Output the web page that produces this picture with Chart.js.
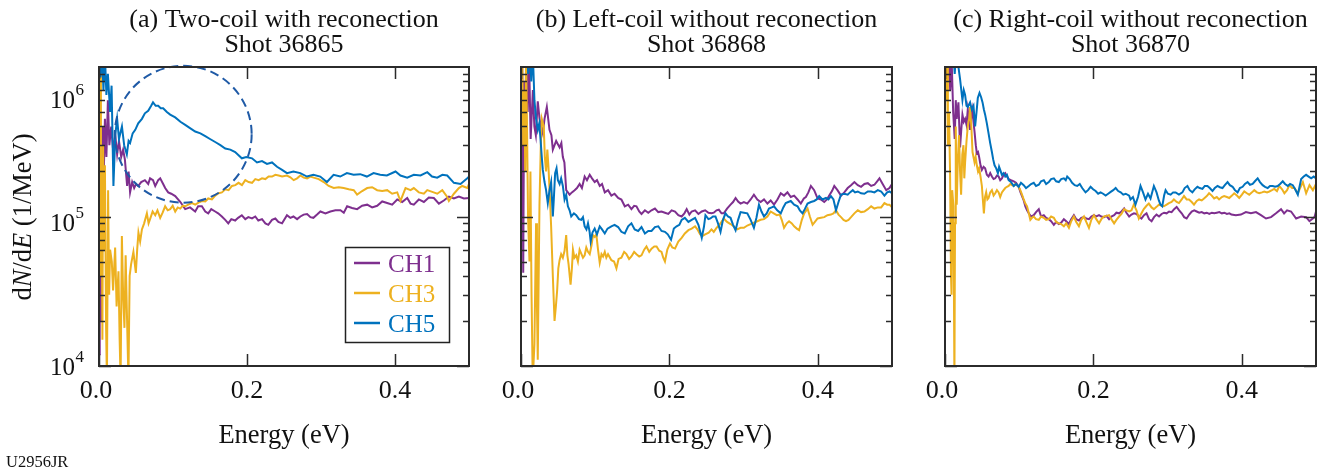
<!DOCTYPE html>
<html>
<head>
<meta charset="utf-8">
<script src="https://cdn.jsdelivr.net/npm/chart.js@4.4.1/dist/chart.umd.min.js"></script>
<style>
  html, body { margin: 0; padding: 0; background: #fff; }
  #wrap { position: relative; width: 1319px; height: 472px; }
  #wrap canvas { position: absolute; left: 0; top: 0; }
</style>
</head>
<body>
<div id="wrap">
  <canvas id="panelA" width="1319" height="472"></canvas>
  <canvas id="panelB" width="1319" height="472"></canvas>
  <canvas id="panelC" width="1319" height="472"></canvas>
</div>
<script>
// ---- data: [energy (eV), dN/dE (1/MeV)] ----
const xTicks = [0.0, 0.2, 0.4];
const yTicks = [1e4, 1e5, 1e6];
const channels = ['CH1', 'CH3', 'CH5'];
const titles = [
  ['(a) Two-coil with reconection', 'Shot 36865'],
  ['(b) Left-coil without reconection', 'Shot 36868'],
  ['(c) Right-coil without reconection', 'Shot 36870']
];

// (a) shot 36865
const aCh1 = [[0.000,1.2e4],[0.001,3e4],[0.002,1.2e5],[0.0035,2e4],[0.005,4e5],[0.006,1.5e5],[0.008,4.5e5],[0.010,2.5e5],[0.012,6e5],[0.014,3e5],[0.0165,4e5],[0.019,2.8e5],[0.022,3.5e5],[0.0245,2.6e5],[0.027,3.2e5],[0.030,2.5e5],[0.0326,2.8e5],[0.035,2.4e5],[0.038,1.6e5],[0.040,2e5],[0.042,1.45e5],[0.0448,1.7e5],[0.0475,1.55e5],[0.050,1.65e5],[0.053,1.6e5],[0.057,1.7e5],[0.062,1.75e5],[0.0665,1.65e5],[0.069,1.8e5],[0.073,1.75e5],[0.076,1.6e5],[0.080,1.75e5],[0.0827,1.8e5],[0.0867,1.65e5],[0.0894,1.55e5],[0.0935,1.45e5],[0.0976,1.42e5],[0.103,1.37e5],[0.110,1.25e5],[0.1165,1.12e5],[0.123,1.15e5],[0.130,1.08e5],[0.134,1.17e5],[0.139,1.17e5],[0.1436,1.08e5],[0.1476,1.05e5],[0.1517,1.12e5],[0.157,1.08e5],[0.161,1.05e5],[0.166,1.0e5],[0.1706,9.5e4],[0.1747,9e4],[0.1788,9.6e4],[0.184,9.4e4],[0.188,9.8e4],[0.193,1.02e5],[0.1977,9.6e4],[0.2018,9.9e4],[0.2068,9.7e4],[0.2112,1.0e5],[0.2153,9.4e4],[0.2203,9.6e4],[0.2248,9.0e4],[0.2288,8.8e4],[0.2338,9.5e4],[0.2383,9.7e4],[0.2424,9.2e4],[0.2474,9.0e4],[0.254,1.02e5],[0.2586,9.8e4],[0.2627,1.0e5],[0.2677,9.6e4],[0.2721,1.0e5],[0.2766,1.03e5],[0.2812,1.04e5],[0.2857,9.9e4],[0.2897,9.8e4],[0.2947,1.03e5],[0.2992,1.08e5],[0.306,1.05e5],[0.3127,1.08e5],[0.3195,1.1e5],[0.3263,1.1e5],[0.3308,1.06e5],[0.3353,1.17e5],[0.342,1.14e5],[0.3488,1.12e5],[0.3556,1.18e5],[0.3624,1.2e5],[0.3691,1.15e5],[0.3759,1.18e5],[0.3827,1.26e5],[0.3894,1.23e5],[0.3962,1.2e5],[0.403,1.3e5],[0.4097,1.25e5],[0.4165,1.33e5],[0.421,1.22e5],[0.4254,1.2e5],[0.4322,1.3e5],[0.439,1.25e5],[0.4457,1.34e5],[0.4525,1.33e5],[0.4593,1.22e5],[0.466,1.28e5],[0.4728,1.36e5],[0.4796,1.32e5],[0.4863,1.36e5],[0.4931,1.32e5],[0.500,1.33e5]];
const aCh3 = [[0.000,1.3e6],[0.001,3e5],[0.0015,1.2e6],[0.0026,4e4],[0.0035,2.5e5],[0.0046,1.5e4],[0.0055,3e5],[0.007,6e4],[0.008,2.2e5],[0.0096,1.8e4],[0.0107,8e3],[0.0123,1.5e5],[0.0137,3e4],[0.015,6e4],[0.0173,5e4],[0.019,3.2e4],[0.0218,6.2e4],[0.0238,2.5e4],[0.0263,4.3e4],[0.0279,1.5e4],[0.0292,8e3],[0.0309,7.4e4],[0.0326,3e4],[0.0344,1.8e4],[0.036,5.5e4],[0.0376,2.4e4],[0.0398,8e3],[0.0414,4e4],[0.0434,4.8e4],[0.0465,5.8e4],[0.0498,4.2e4],[0.0516,6e4],[0.0533,7.8e4],[0.0556,6.8e4],[0.058,8.2e4],[0.061,9e4],[0.0647,1.05e5],[0.067,9e4],[0.069,9.6e4],[0.0725,1.08e5],[0.076,1.02e5],[0.079,1.1e5],[0.0827,9.8e4],[0.086,1.06e5],[0.0894,1.17e5],[0.0928,1.1e5],[0.0962,1.12e5],[0.0996,1.18e5],[0.103,1.08e5],[0.1064,1.15e5],[0.1097,1.13e5],[0.1131,1.18e5],[0.1165,1.17e5],[0.1206,1.2e5],[0.1256,1.23e5],[0.130,1.2e5],[0.1345,1.24e5],[0.139,1.27e5],[0.1436,1.26e5],[0.1476,1.32e5],[0.1526,1.3e5],[0.157,1.38e5],[0.1616,1.43e5],[0.1661,1.45e5],[0.1706,1.52e5],[0.1751,1.5e5],[0.1797,1.6e5],[0.1842,1.62e5],[0.1886,1.68e5],[0.1932,1.62e5],[0.1977,1.75e5],[0.2022,1.7e5],[0.2068,1.68e5],[0.2112,1.78e5],[0.2157,1.75e5],[0.2203,1.8e5],[0.2248,1.78e5],[0.2292,1.85e5],[0.2338,1.85e5],[0.2383,1.9e5],[0.2428,1.88e5],[0.2474,1.85e5],[0.254,1.88e5],[0.2586,1.83e5],[0.2631,1.75e5],[0.2677,1.8e5],[0.2721,1.88e5],[0.2766,1.82e5],[0.2812,1.8e5],[0.2857,1.85e5],[0.2901,1.82e5],[0.2969,1.78e5],[0.3037,1.7e5],[0.3104,1.6e5],[0.3172,1.55e5],[0.324,1.57e5],[0.3307,1.55e5],[0.3375,1.52e5],[0.3443,1.5e5],[0.3488,1.4e5],[0.3556,1.48e5],[0.3624,1.55e5],[0.3691,1.57e5],[0.3759,1.5e5],[0.3827,1.48e5],[0.3894,1.5e5],[0.3962,1.42e5],[0.403,1.45e5],[0.4074,1.27e5],[0.4142,1.55e5],[0.421,1.5e5],[0.4254,1.55e5],[0.4322,1.45e5],[0.439,1.42e5],[0.4436,1.5e5],[0.4503,1.46e5],[0.4571,1.42e5],[0.4639,1.5e5],[0.4706,1.35e5],[0.4728,1.27e5],[0.4796,1.42e5],[0.4863,1.55e5],[0.4909,1.6e5],[0.4977,1.55e5],[0.500,1.65e5]];
const aCh5 = [[0.000,1.5e6],[0.002,8.5e5],[0.004,1.3e6],[0.006,7e5],[0.008,1.2e6],[0.010,6.5e5],[0.012,9e5],[0.015,5e5],[0.017,7.5e5],[0.0195,1.6e5],[0.022,3.5e5],[0.0245,4.5e5],[0.027,3.3e5],[0.031,4e5],[0.034,3e5],[0.0376,2.6e5],[0.040,3.2e5],[0.042,3.1e5],[0.0455,3.6e5],[0.049,3.8e5],[0.053,4.2e5],[0.058,4.5e5],[0.062,4.9e5],[0.0665,5.1e5],[0.0705,5.5e5],[0.073,5.8e5],[0.0766,5.5e5],[0.080,5.5e5],[0.0834,5.3e5],[0.0867,5.3e5],[0.0917,5e5],[0.0962,4.8e5],[0.103,4.6e5],[0.110,4.3e5],[0.1165,4.1e5],[0.123,3.9e5],[0.130,3.7e5],[0.137,3.6e5],[0.1436,3.45e5],[0.150,3.3e5],[0.157,3.15e5],[0.164,3.0e5],[0.1706,2.85e5],[0.1774,2.8e5],[0.184,2.7e5],[0.193,2.45e5],[0.199,2.5e5],[0.2068,2.45e5],[0.2135,2.3e5],[0.2203,2.35e5],[0.227,2.25e5],[0.2338,2.3e5],[0.2406,2.15e5],[0.2474,2.05e5],[0.254,1.95e5],[0.2627,2.0e5],[0.272,1.95e5],[0.281,1.85e5],[0.2897,1.9e5],[0.299,1.85e5],[0.308,1.7e5],[0.317,1.9e5],[0.326,1.85e5],[0.335,1.95e5],[0.344,1.9e5],[0.353,1.92e5],[0.362,1.85e5],[0.371,1.95e5],[0.380,1.9e5],[0.389,1.88e5],[0.4007,2.0e5],[0.4074,1.88e5],[0.4165,1.82e5],[0.4254,1.9e5],[0.4345,1.88e5],[0.4436,1.98e5],[0.450,1.85e5],[0.457,1.82e5],[0.464,1.9e5],[0.4706,1.88e5],[0.4796,1.68e5],[0.4886,1.65e5],[0.4977,1.8e5],[0.500,1.85e5]];

// (b) shot 36868
const bCh1 = [[0.000,4e5],[0.0016,1.2e6],[0.003,4.2e4],[0.0043,8e5],[0.0057,3e5],[0.007,1.3e6],[0.009,5e5],[0.011,1.1e6],[0.013,3.3e5],[0.016,7e5],[0.018,4e5],[0.020,3.5e5],[0.0226,5.9e5],[0.025,4.5e5],[0.027,4e5],[0.0294,3.6e5],[0.0317,4.5e5],[0.0348,5.4e5],[0.0384,3.8e5],[0.041,3.5e5],[0.0429,2.8e5],[0.0474,3.2e5],[0.052,2.9e5],[0.0544,3.1e5],[0.0564,2.5e5],[0.0585,2.3e5],[0.0609,1.5e5],[0.0655,1.4e5],[0.0686,1.45e5],[0.0723,1.5e5],[0.0754,1.55e5],[0.079,1.65e5],[0.0821,1.55e5],[0.0858,1.85e5],[0.0889,1.75e5],[0.0926,1.9e5],[0.0957,1.8e5],[0.0993,1.7e5],[0.1024,1.75e5],[0.1061,1.6e5],[0.1092,1.65e5],[0.1129,1.45e5],[0.1173,1.5e5],[0.1218,1.38e5],[0.1261,1.42e5],[0.1309,1.33e5],[0.1353,1.3e5],[0.1399,1.17e5],[0.1444,1.2e5],[0.1488,1.12e5],[0.1525,1.18e5],[0.1556,1.17e5],[0.1593,1.08e5],[0.1624,1.04e5],[0.167,1.1e5],[0.1715,1.06e5],[0.1759,1.1e5],[0.1805,1.13e5],[0.185,1.07e5],[0.1894,1.08e5],[0.194,1.06e5],[0.1985,1.04e5],[0.203,1.1e5],[0.2076,1.08e5],[0.212,1.02e5],[0.2165,1.0e5],[0.2202,1.05e5],[0.2233,1.12e5],[0.2269,1.03e5],[0.23,1.08e5],[0.2346,1.1e5],[0.2391,1.04e5],[0.2436,1.08e5],[0.2482,1.1e5],[0.2526,1.06e5],[0.2567,1.05e5],[0.2598,1.06e5],[0.2635,1.1e5],[0.2666,1.11e5],[0.2702,1.05e5],[0.2733,1.05e5],[0.2777,1.13e5],[0.2824,1.2e5],[0.2858,1.25e5],[0.2892,1.33e5],[0.2926,1.26e5],[0.2959,1.22e5],[0.3004,1.25e5],[0.305,1.22e5],[0.3095,1.3e5],[0.3139,1.4e5],[0.3185,1.3e5],[0.323,1.25e5],[0.3275,1.3e5],[0.3321,1.22e5],[0.3365,1.28e5],[0.341,1.2e5],[0.3456,1.3e5],[0.3501,1.43e5],[0.3545,1.38e5],[0.3591,1.45e5],[0.3636,1.35e5],[0.3681,1.38e5],[0.3727,1.3e5],[0.3771,1.22e5],[0.3812,1.32e5],[0.3839,1.35e5],[0.3873,1.45e5],[0.3907,1.6e5],[0.3951,1.5e5],[0.3997,1.32e5],[0.4042,1.3e5],[0.4087,1.25e5],[0.4123,1.3e5],[0.4154,1.38e5],[0.4191,1.48e5],[0.4222,1.6e5],[0.4265,1.5e5],[0.4313,1.38e5],[0.4357,1.45e5],[0.4403,1.55e5],[0.4448,1.62e5],[0.4493,1.7e5],[0.4539,1.62e5],[0.4583,1.58e5],[0.4628,1.65e5],[0.4674,1.67e5],[0.4719,1.6e5],[0.4763,1.63e5],[0.48,1.72e5],[0.4831,1.8e5],[0.4874,1.65e5],[0.4922,1.5e5],[0.4966,1.55e5],[0.5,1.65e5]];
const bCh3 = [[0.000,6e5],[0.0016,1.3e6],[0.003,3e5],[0.0046,7e5],[0.0057,2e5],[0.0068,1.2e6],[0.0081,4e5],[0.0095,1.0e5],[0.0114,5e4],[0.0127,2e5],[0.0142,3e4],[0.0158,8e3],[0.0181,1.4e4],[0.0203,9e4],[0.0215,2.5e4],[0.0226,1.1e4],[0.0249,1.2e5],[0.0267,3e5],[0.028,4.5e5],[0.0307,4e5],[0.0321,2.5e5],[0.0338,2e5],[0.0355,2.8e5],[0.0371,2.1e5],[0.0388,1.4e5],[0.0406,8.6e4],[0.0429,4e4],[0.0452,2e4],[0.047,2.5e4],[0.0487,3.2e4],[0.0503,4.5e4],[0.052,5.1e4],[0.0541,5.6e4],[0.0564,5.3e4],[0.0587,5.9e4],[0.0609,7.5e4],[0.0625,5.5e4],[0.0641,4.8e4],[0.0668,3.5e4],[0.0686,4.5e4],[0.07,6e4],[0.072,5.3e4],[0.0744,5.5e4],[0.0767,5e4],[0.079,6e4],[0.0815,5.6e4],[0.0835,5.3e4],[0.0858,5.5e4],[0.088,6.2e4],[0.0903,5.8e4],[0.0926,5.6e4],[0.095,6.4e4],[0.097,7.5e4],[0.0993,7.3e4],[0.1015,7.6e4],[0.1038,6e4],[0.1061,4.9e4],[0.1085,5.6e4],[0.1106,5.4e4],[0.1129,5.8e4],[0.115,5.3e4],[0.1173,5.6e4],[0.1218,5.1e4],[0.1254,5.0e4],[0.1286,4.5e4],[0.1315,5.2e4],[0.1353,5.3e4],[0.139,5.8e4],[0.1421,5.6e4],[0.1457,5.2e4],[0.1488,5.4e4],[0.1525,5.8e4],[0.1556,5.6e4],[0.1593,5.4e4],[0.1624,5.5e4],[0.166,6e4],[0.1691,6.3e4],[0.1728,5.8e4],[0.1759,6.1e4],[0.1796,6.3e4],[0.1827,6.3e4],[0.1863,5.9e4],[0.1894,5.8e4],[0.1917,5.3e4],[0.194,5.0e4],[0.1972,6e4],[0.2008,6.6e4],[0.2039,6.2e4],[0.2076,6.1e4],[0.212,6.8e4],[0.2165,7.2e4],[0.2208,7.7e4],[0.2256,8.1e4],[0.23,8.3e4],[0.2346,8.6e4],[0.2377,8.2e4],[0.2414,7.6e4],[0.2445,7.4e4],[0.2482,7.6e4],[0.253,7.8e4],[0.2567,8.2e4],[0.2598,7.9e4],[0.2635,8.4e4],[0.2666,8.7e4],[0.2702,9.2e4],[0.2733,9.7e4],[0.2777,9.2e4],[0.2824,8.9e4],[0.2864,8.6e4],[0.2915,8.2e4],[0.2959,8.4e4],[0.3004,8.4e4],[0.305,8.7e4],[0.3095,8.9e4],[0.3139,9.1e4],[0.3185,9.3e4],[0.323,9.5e4],[0.3275,9.6e4],[0.3321,1.0e5],[0.3365,1.08e5],[0.3406,1.05e5],[0.3447,1.02e5],[0.3487,1.03e5],[0.3514,9.5e4],[0.3545,8.4e4],[0.3582,9.0e4],[0.3613,9.3e4],[0.365,9.0e4],[0.3681,8.6e4],[0.3717,8.3e4],[0.3748,8.1e4],[0.3785,9.5e4],[0.3816,1.05e5],[0.3862,1.13e5],[0.3893,1.0e5],[0.393,8.8e4],[0.3961,9.2e4],[0.3997,9.7e4],[0.4042,9.8e4],[0.4087,9.9e4],[0.413,1.02e5],[0.4177,1.03e5],[0.4211,1.05e5],[0.4245,1.1e5],[0.4279,1.03e5],[0.4313,9.9e4],[0.4347,9.5e4],[0.438,9.3e4],[0.4414,9.5e4],[0.4448,9.9e4],[0.4493,1.05e5],[0.4539,1.1e5],[0.4583,1.07e5],[0.4628,1.08e5],[0.4674,1.12e5],[0.4719,1.17e5],[0.4763,1.13e5],[0.4809,1.15e5],[0.4854,1.15e5],[0.4898,1.23e5],[0.4935,1.2e5],[0.4966,1.2e5],[0.5,1.15e5]];
const bCh5 = [[0.0077,1.5e6],[0.0097,9e5],[0.0118,1.4e6],[0.0138,8e5],[0.0158,1.3e6],[0.0181,6e5],[0.0203,4.5e5],[0.0226,3.8e5],[0.0246,4.2e5],[0.0263,3.3e5],[0.028,2.5e5],[0.0294,2.05e5],[0.0317,1.7e5],[0.0338,1.5e5],[0.0361,1.23e5],[0.0384,1.5e5],[0.0406,1.7e5],[0.0429,1.0e5],[0.0442,1.3e5],[0.046,1.95e5],[0.0479,2.1e5],[0.0497,1.75e5],[0.052,1.65e5],[0.0541,1.8e5],[0.0564,1.6e5],[0.0587,1.3e5],[0.0609,1.4e5],[0.0632,1.17e5],[0.0655,1.1e5],[0.0677,1.0e5],[0.0713,1.05e5],[0.0744,1.02e5],[0.0781,9.6e4],[0.0812,9.5e4],[0.0835,9.9e4],[0.0858,8.6e4],[0.0882,8.2e4],[0.0903,9e4],[0.0923,8e4],[0.0939,6.8e4],[0.0963,7.8e4],[0.0993,8.3e4],[0.1024,7.6e4],[0.1061,8.6e4],[0.1092,8.2e4],[0.1129,7.7e4],[0.1166,8.3e4],[0.1218,8.6e4],[0.1261,8.8e4],[0.1309,8.5e4],[0.1353,7.9e4],[0.1399,7.7e4],[0.1444,8.6e4],[0.1488,9.0e4],[0.1532,8.2e4],[0.1579,8.0e4],[0.1624,8.5e4],[0.167,7.7e4],[0.1715,8.0e4],[0.1759,8.0e4],[0.1805,8.5e4],[0.185,8.6e4],[0.1894,8.0e4],[0.194,7.9e4],[0.1978,7.6e4],[0.2022,7e4],[0.206,8.3e4],[0.2097,8.6e4],[0.2134,8.8e4],[0.2165,9.5e4],[0.2208,9.8e4],[0.2256,9.2e4],[0.23,9.5e4],[0.2346,9.8e4],[0.2391,8.8e4],[0.2436,7.2e4],[0.2465,8.5e4],[0.2486,1.02e5],[0.2526,9.6e4],[0.2553,9.7e4],[0.2587,1.0e5],[0.2621,1.0e5],[0.2655,9.0e4],[0.2689,7.9e4],[0.2722,9.5e4],[0.2756,1.05e5],[0.279,1.0e5],[0.2824,9.8e4],[0.2858,8.8e4],[0.2892,8.1e4],[0.2926,9.5e4],[0.2959,1.07e5],[0.3004,1.06e5],[0.305,1.05e5],[0.3095,9.5e4],[0.3139,8.4e4],[0.3173,9.8e4],[0.3207,1.2e5],[0.3241,1.08e5],[0.3275,1.0e5],[0.3311,1.05e5],[0.3342,1.13e5],[0.3379,1.15e5],[0.341,1.17e5],[0.3453,1.1e5],[0.3501,1.05e5],[0.3535,1.15e5],[0.3568,1.23e5],[0.3602,1.25e5],[0.3636,1.27e5],[0.3681,1.2e5],[0.3727,1.17e5],[0.3758,1.1e5],[0.3794,1.05e5],[0.3825,1.12e5],[0.3862,1.22e5],[0.3907,1.25e5],[0.3951,1.27e5],[0.3985,1.3e5],[0.4019,1.37e5],[0.4062,1.3e5],[0.411,1.33e5],[0.4143,1.3e5],[0.4177,1.37e5],[0.4211,1.3e5],[0.4245,1.1e5],[0.4279,1.25e5],[0.4313,1.4e5],[0.4357,1.42e5],[0.4403,1.4e5],[0.4434,1.45e5],[0.4471,1.5e5],[0.4502,1.45e5],[0.4539,1.47e5],[0.4583,1.43e5],[0.4628,1.42e5],[0.4674,1.47e5],[0.4719,1.47e5],[0.4763,1.45e5],[0.4809,1.5e5],[0.4854,1.47e5],[0.4898,1.38e5],[0.4935,1.45e5],[0.4966,1.47e5],[0.5,1.43e5]];

// (c) shot 36870
const cCh1 = [[0.001,1.4e6],[0.003,8e5],[0.005,1.2e6],[0.007,7e5],[0.009,1.1e6],[0.011,5e5],[0.0131,3.3e5],[0.0145,6e5],[0.0158,4.5e5],[0.0181,5.8e5],[0.0203,2.9e5],[0.0219,3.8e5],[0.0235,4.8e5],[0.0253,4.3e5],[0.0271,4.5e5],[0.029,4.1e5],[0.0307,5.2e5],[0.0325,4.4e5],[0.0338,3.8e5],[0.0355,4.7e5],[0.0371,5.2e5],[0.0384,4.3e5],[0.0398,3.7e5],[0.0415,3e5],[0.0429,2.65e5],[0.0445,2.7e5],[0.046,2.5e5],[0.0479,2.2e5],[0.0497,2.05e5],[0.052,2.15e5],[0.0541,2.1e5],[0.0564,1.9e5],[0.0587,1.85e5],[0.0609,1.95e5],[0.0632,1.85e5],[0.0655,1.78e5],[0.0677,1.8e5],[0.07,1.88e5],[0.0723,1.85e5],[0.0744,1.75e5],[0.0767,1.8e5],[0.079,1.9e5],[0.0812,1.95e5],[0.0835,1.85e5],[0.0858,1.78e5],[0.0889,1.75e5],[0.0926,1.72e5],[0.0957,1.68e5],[0.0993,1.58e5],[0.1018,1.45e5],[0.1038,1.37e5],[0.1061,1.28e5],[0.1083,1.17e5],[0.1106,1.1e5],[0.1129,1.05e5],[0.116,1.0e5],[0.1196,1.02e5],[0.1227,1.07e5],[0.1264,1.12e5],[0.1295,1.0e5],[0.1332,1.02e5],[0.1363,9.8e4],[0.1399,9.6e4],[0.143,9.3e4],[0.1467,8.8e4],[0.1498,9.2e4],[0.1534,8.9e4],[0.1566,9.1e4],[0.1602,9.6e4],[0.1633,9.3e4],[0.167,8.9e4],[0.1701,9.6e4],[0.1737,1.02e5],[0.1769,9.6e4],[0.1805,9.4e4],[0.1836,9.8e4],[0.1873,9.9e4],[0.1904,9.7e4],[0.194,9.6e4],[0.1972,1.0e5],[0.2008,1.02e5],[0.2039,1.0e5],[0.2076,1.02e5],[0.2107,1.0e5],[0.2143,9.9e4],[0.2175,1.01e5],[0.2211,9.6e4],[0.2242,1.0e5],[0.2279,1.02e5],[0.231,1.06e5],[0.2346,1.05e5],[0.2378,1.08e5],[0.2414,1.13e5],[0.2445,1.06e5],[0.2482,1.0e5],[0.2513,1.03e5],[0.2547,1.05e5],[0.2581,1.04e5],[0.2614,1.0e5],[0.2648,9.7e4],[0.2682,1.02e5],[0.2716,1.05e5],[0.275,9.6e4],[0.2784,9.3e4],[0.2817,9.9e4],[0.2851,1.03e5],[0.2885,1.0e5],[0.2919,1.04e5],[0.2953,1.06e5],[0.2987,1.05e5],[0.302,1.08e5],[0.3054,1.07e5],[0.3088,1.12e5],[0.3122,1.16e5],[0.3156,1.1e5],[0.319,1.05e5],[0.3223,9.9e4],[0.3257,9.7e4],[0.3291,1.03e5],[0.3325,1.08e5],[0.3359,1.1e5],[0.3392,1.08e5],[0.3426,1.06e5],[0.346,1.07e5],[0.3494,1.05e5],[0.3528,1.06e5],[0.3562,1.04e5],[0.3596,1.06e5],[0.3629,1.05e5],[0.3663,1.06e5],[0.3697,1.07e5],[0.3731,1.05e5],[0.3765,1.06e5],[0.3799,1.04e5],[0.3833,1.05e5],[0.386,1.03e5],[0.392,1.02e5],[0.3988,1.03e5],[0.4055,1.07e5],[0.4123,1.05e5],[0.4191,1.07e5],[0.4258,1.02e5],[0.4326,9.7e4],[0.4394,9.9e4],[0.4461,1.05e5],[0.4529,1.12e5],[0.457,1.05e5],[0.461,1.1e5],[0.4664,1.08e5],[0.4732,9.7e4],[0.48,1.0e5],[0.4867,9.9e4],[0.4912,9.3e4],[0.498,9.9e4],[0.5,1.08e5]];
const cCh3 = [[0.000,1.4e6],[0.0016,6e5],[0.0027,1.2e6],[0.0039,3e5],[0.0054,5e5],[0.0068,2e5],[0.0081,4e4],[0.0088,3e4],[0.0097,1.5e5],[0.0114,1.17e5],[0.0127,8e3],[0.0135,9e4],[0.0145,4e5],[0.0158,1.2e5],[0.0172,2.3e5],[0.0189,3.5e5],[0.0203,2e5],[0.0217,1.4e5],[0.0233,2.6e5],[0.0249,3e5],[0.026,1.8e5],[0.0271,2.3e5],[0.029,3.2e5],[0.0307,4e5],[0.0325,4.5e5],[0.0338,5.4e5],[0.0355,4e5],[0.0371,2.7e5],[0.0384,2.5e5],[0.0398,2.3e5],[0.0413,2.5e5],[0.0429,2.2e5],[0.0445,2e5],[0.046,2.1e5],[0.0479,1.85e5],[0.0497,1.6e5],[0.051,1.3e5],[0.0524,1.05e5],[0.054,1.35e5],[0.0555,1.45e5],[0.0571,1.3e5],[0.0587,1.33e5],[0.0609,1.45e5],[0.0632,1.5e5],[0.0655,1.38e5],[0.0677,1.43e5],[0.07,1.5e5],[0.0723,1.45e5],[0.0744,1.35e5],[0.0767,1.45e5],[0.079,1.5e5],[0.0812,1.55e5],[0.0835,1.58e5],[0.0858,1.6e5],[0.088,1.65e5],[0.0903,1.62e5],[0.0926,1.6e5],[0.0947,1.65e5],[0.097,1.62e5],[0.0993,1.58e5],[0.1015,1.5e5],[0.1038,1.4e5],[0.1061,1.3e5],[0.1083,1.22e5],[0.1106,1.17e5],[0.1129,1.05e5],[0.115,9.5e4],[0.1173,9.8e4],[0.1196,1.0e5],[0.1227,9.6e4],[0.1264,9.5e4],[0.1295,1.0e5],[0.1332,9.8e4],[0.1363,9.5e4],[0.1399,9.6e4],[0.143,1.0e5],[0.1467,9.8e4],[0.1498,9.2e4],[0.1534,9.0e4],[0.1566,8.9e4],[0.1602,8.6e4],[0.1633,9e4],[0.167,8.4e4],[0.1701,9.3e4],[0.1737,1.0e5],[0.1769,9.2e4],[0.1805,8.6e4],[0.1836,9.5e4],[0.1873,1.0e5],[0.1904,9.2e4],[0.194,8.4e4],[0.1972,9.5e4],[0.2008,1.02e5],[0.2039,9.6e4],[0.2076,9.0e4],[0.2107,9.6e4],[0.2143,1.0e5],[0.2175,1.01e5],[0.2211,1.02e5],[0.2242,9.6e4],[0.2279,9.0e4],[0.231,9.5e4],[0.2346,1.0e5],[0.2378,1.04e5],[0.2414,1.12e5],[0.2445,1.1e5],[0.2482,1.08e5],[0.2513,1.1e5],[0.2544,1.2e5],[0.2581,1.1e5],[0.2612,9.7e4],[0.2648,1.05e5],[0.2679,1.12e5],[0.2716,1.18e5],[0.2747,1.22e5],[0.2784,1.15e5],[0.2815,1.12e5],[0.2851,1.16e5],[0.2882,1.2e5],[0.2919,1.18e5],[0.295,1.17e5],[0.2987,1.2e5],[0.3018,1.23e5],[0.3054,1.25e5],[0.3085,1.3e5],[0.3122,1.25e5],[0.3153,1.23e5],[0.319,1.3e5],[0.3221,1.37e5],[0.3257,1.3e5],[0.3288,1.3e5],[0.3325,1.25e5],[0.3356,1.2e5],[0.3392,1.27e5],[0.3424,1.3e5],[0.346,1.28e5],[0.3491,1.32e5],[0.3528,1.37e5],[0.3559,1.43e5],[0.3595,1.38e5],[0.3627,1.32e5],[0.3663,1.35e5],[0.3694,1.3e5],[0.3731,1.35e5],[0.3762,1.37e5],[0.3799,1.35e5],[0.3831,1.33e5],[0.3867,1.38e5],[0.3897,1.43e5],[0.3934,1.38e5],[0.3965,1.33e5],[0.4002,1.4e5],[0.4033,1.47e5],[0.4069,1.43e5],[0.41,1.4e5],[0.4137,1.45e5],[0.4168,1.5e5],[0.4204,1.45e5],[0.4235,1.43e5],[0.4272,1.45e5],[0.4303,1.47e5],[0.434,1.45e5],[0.4371,1.47e5],[0.4407,1.5e5],[0.4438,1.53e5],[0.4474,1.48e5],[0.4506,1.6e5],[0.4543,1.52e5],[0.4574,1.43e5],[0.461,1.5e5],[0.4641,1.62e5],[0.4678,1.55e5],[0.4709,1.55e5],[0.4755,1.43e5],[0.4786,1.55e5],[0.4823,1.7e5],[0.4867,1.43e5],[0.4912,1.62e5],[0.4958,1.5e5],[0.5,1.65e5]];
const cCh5 = [[0.0104,1.4e6],[0.0131,9e5],[0.0158,1.5e6],[0.0181,1.0e6],[0.0203,8.3e5],[0.0235,6e5],[0.0253,7e5],[0.0271,6.5e5],[0.029,5.5e5],[0.0307,5.4e5],[0.0338,5.8e5],[0.0361,5.2e5],[0.0384,5.5e5],[0.0406,4e5],[0.0425,5e5],[0.0442,6.2e5],[0.0465,6.7e5],[0.0486,6.3e5],[0.0506,5.8e5],[0.0524,5.2e5],[0.0541,4.8e5],[0.0564,4.2e5],[0.0587,3.6e5],[0.0609,3.1e5],[0.0632,2.7e5],[0.065,2.4e5],[0.0668,2.2e5],[0.069,2.1e5],[0.0713,1.95e5],[0.0729,2.15e5],[0.0744,2.05e5],[0.0767,1.9e5],[0.079,1.95e5],[0.0812,1.85e5],[0.0835,1.9e5],[0.0858,1.75e5],[0.0889,1.7e5],[0.0926,1.6e5],[0.0957,1.65e5],[0.0993,1.58e5],[0.1024,1.68e5],[0.1061,1.62e5],[0.1092,1.55e5],[0.1129,1.6e5],[0.116,1.65e5],[0.1196,1.68e5],[0.1227,1.6e5],[0.1264,1.63e5],[0.1295,1.72e5],[0.1332,1.75e5],[0.1363,1.65e5],[0.1399,1.7e5],[0.143,1.78e5],[0.1467,1.8e5],[0.1498,1.72e5],[0.1534,1.7e5],[0.1566,1.78e5],[0.1602,1.8e5],[0.1627,1.75e5],[0.1647,1.85e5],[0.1681,1.78e5],[0.1713,1.68e5],[0.1748,1.62e5],[0.1782,1.6e5],[0.1816,1.65e5],[0.1849,1.55e5],[0.1894,1.45e5],[0.1928,1.5e5],[0.1962,1.58e5],[0.1996,1.52e5],[0.203,1.48e5],[0.2064,1.42e5],[0.2097,1.45e5],[0.2131,1.42e5],[0.2165,1.38e5],[0.2199,1.42e5],[0.2233,1.46e5],[0.2267,1.5e5],[0.23,1.55e5],[0.2334,1.48e5],[0.2368,1.45e5],[0.2402,1.4e5],[0.2436,1.42e5],[0.2482,1.38e5],[0.25,1.3e5],[0.2533,1.35e5],[0.2567,1.2e5],[0.2601,1.35e5],[0.2635,1.6e5],[0.2669,1.45e5],[0.2702,1.3e5],[0.2736,1.42e5],[0.277,1.32e5],[0.2815,1.6e5],[0.2851,1.45e5],[0.2882,1.28e5],[0.2905,1.2e5],[0.2928,1.17e5],[0.2953,1.38e5],[0.2973,1.5e5],[0.3004,1.42e5],[0.3041,1.4e5],[0.3074,1.45e5],[0.3108,1.45e5],[0.3153,1.4e5],[0.3199,1.45e5],[0.323,1.55e5],[0.3267,1.6e5],[0.3298,1.5e5],[0.3334,1.45e5],[0.3365,1.52e5],[0.3402,1.58e5],[0.3433,1.55e5],[0.347,1.53e5],[0.3501,1.6e5],[0.3537,1.6e5],[0.3568,1.55e5],[0.3605,1.48e5],[0.3636,1.55e5],[0.3673,1.6e5],[0.3704,1.57e5],[0.374,1.55e5],[0.3771,1.62e5],[0.3808,1.7e5],[0.3839,1.62e5],[0.3876,1.58e5],[0.3907,1.5e5],[0.3943,1.45e5],[0.3974,1.55e5],[0.4011,1.58e5],[0.4042,1.65e5],[0.4078,1.7e5],[0.411,1.63e5],[0.4146,1.65e5],[0.4177,1.72e5],[0.4214,1.8e5],[0.4245,1.7e5],[0.4281,1.62e5],[0.4313,1.58e5],[0.4349,1.55e5],[0.438,1.6e5],[0.4417,1.6e5],[0.4448,1.58e5],[0.4484,1.6e5],[0.4516,1.65e5],[0.4552,1.72e5],[0.4583,1.65e5],[0.462,1.6e5],[0.4651,1.65e5],[0.4687,1.62e5],[0.4719,1.52e5],[0.4755,1.4e5],[0.478,1.6e5],[0.48,1.78e5],[0.4834,1.85e5],[0.4867,1.9e5],[0.4901,1.85e5],[0.4935,1.8e5],[0.4969,1.85e5],[0.5,1.8e5]];

// ---- styling ----
const lineColors = { CH1: '#7E2F8E', CH3: '#EDB120', CH5: '#0072BD' };
const serif = '"Liberation Serif", "Times New Roman", "DejaVu Serif", serif';
const frameColor = '#2b2b2b';

function toXY(arr) {
  return arr.map(p => ({ x: p[0], y: p[1] }));
}

function drawText(ctx, str, x, y, size, align, color, italic) {
  ctx.font = (italic ? 'italic ' : '') + size + 'px ' + serif;
  ctx.textAlign = align;
  ctx.textBaseline = 'alphabetic';
  ctx.fillStyle = color || '#111';
  ctx.fillText(str, x, y);
}

// text made of normal / italic pieces, centred on (0,0)
function drawRich(ctx, parts, size) {
  let total = 0;
  parts.forEach(p => {
    ctx.font = (p.i ? 'italic ' : '') + size + 'px ' + serif;
    p.w = ctx.measureText(p.t).width;
    total += p.w;
  });
  let cx = -total / 2;
  parts.forEach(p => {
    drawText(ctx, p.t, cx, 0, size, 'left', '#111', p.i);
    cx += p.w;
  });
}

const decor = {
  id: 'decor',
  afterDatasetsDraw(chart, args, o) {
    const { ctx, chartArea: a } = chart;
    const xs = chart.scales.x, ys = chart.scales.y;
    const midX = (a.left + a.right) / 2;
    ctx.save();

    // dashed circle around the CH5 bump
    if (o.circle) {
      const cx = xs.getPixelForValue(o.circle.e);
      const cy = ys.getPixelForValue(o.circle.n);
      const r = xs.getPixelForValue(o.circle.e + o.circle.r) - cx;
      ctx.beginPath();
      ctx.setLineDash([9, 5]);
      ctx.lineWidth = 2;
      ctx.strokeStyle = '#1F5AA6';
      ctx.arc(cx, cy, r, 0, Math.PI * 2);
      ctx.stroke();
      ctx.setLineDash([]);
    }

    // frame
    ctx.strokeStyle = frameColor;
    ctx.lineWidth = 2;
    ctx.strokeRect(a.left, a.top, a.right - a.left, a.bottom - a.top);

    // inward ticks
    ctx.lineWidth = 1.5;
    ctx.beginPath();
    for (let d = yTicks[0]; d < yTicks[yTicks.length - 1]; d *= 10) {
      for (let m = 1; m <= 9; m++) {
        const py = Math.round(ys.getPixelForValue(d * m)) + 0.5;
        const len = m === 1 ? 12 : 6;
        ctx.moveTo(a.left, py); ctx.lineTo(a.left + len, py);
        ctx.moveTo(a.right, py); ctx.lineTo(a.right - len, py);
      }
    }
    xTicks.forEach(v => {
      const px = Math.round(xs.getPixelForValue(v)) + 0.5;
      ctx.moveTo(px, a.bottom); ctx.lineTo(px, a.bottom - 12);
      ctx.moveTo(px, a.top); ctx.lineTo(px, a.top + 12);
    });
    ctx.stroke();

    // titles
    drawText(ctx, o.titles[0], midX, 27, 26, 'center');
    drawText(ctx, o.titles[1], midX, 52, 26, 'center');

    // x tick labels and axis title
    xTicks.forEach((v, i) => {
      const px = xs.getPixelForValue(v) - (i === 0 ? 3 : 0);
      drawText(ctx, v.toFixed(1), px, 398, 26, 'center');
    });
    drawText(ctx, 'Energy (eV)', midX, 443, 26.5, 'center');

    if (o.showY) {
      yTicks.forEach(v => {
        let base = ys.getPixelForValue(v) + 14;
        base = Math.max(base, a.top + 41);
        base = Math.min(base, a.bottom + 9);
        const exp = String(Math.round(Math.log10(v)));
        drawText(ctx, '10', 75, base, 25, 'right');
        drawText(ctx, exp, 75.5, base - 13, 17, 'left');
      });
      ctx.save();
      ctx.translate(31, 217);
      ctx.rotate(-Math.PI / 2);
      drawRich(ctx, [{ t: 'd' }, { t: 'N', i: true }, { t: '/d' }, { t: 'E', i: true }, { t: ' (1/MeV)' }], 26.5);
      ctx.restore();
      drawText(ctx, 'U2956JR', 6, 467, 16.5, 'left');
    }

    if (o.showLegend) {
      const bx = 345, by = 247, bw = 104, bh = 95;
      ctx.fillStyle = '#fff';
      ctx.fillRect(bx, by, bw, bh);
      ctx.strokeStyle = '#222';
      ctx.lineWidth = 1.5;
      ctx.strokeRect(bx + 0.5, by + 0.5, bw, bh);
      channels.forEach((ch, i) => {
        const ry = by + 16 + i * 30;
        ctx.beginPath();
        ctx.strokeStyle = lineColors[ch];
        ctx.lineWidth = 2.5;
        ctx.moveTo(bx + 9, ry); ctx.lineTo(bx + 35, ry);
        ctx.stroke();
        drawText(ctx, ch, bx + 43, ry + 9, 25, 'left', lineColors[ch]);
      });
    }
    ctx.restore();
  }
};

function makePanel(id, series, left, right, opts) {
  // series in draw order: CH5 on top
  const datasets = ['CH5', 'CH3', 'CH1'].map(ch => ({
    label: ch,
    data: toXY(series[ch]),
    borderColor: lineColors[ch],
    borderWidth: 2,
    pointRadius: 0,
    tension: 0,
    fill: false
  }));
  return new Chart(document.getElementById(id), {
    type: 'line',
    data: { datasets },
    options: {
      responsive: false,
      animation: false,
      events: [],
      layout: { padding: { left: left, right: 1319 - right, top: 67, bottom: 106 } },
      scales: {
        x: { type: 'linear', min: 0, max: 0.5, display: false },
        y: { type: 'logarithmic', min: yTicks[0], max: yTicks[2], display: false }
      },
      plugins: {
        legend: { display: false },
        tooltip: { enabled: false },
        decor: opts
      }
    },
    plugins: [decor]
  });
}

makePanel('panelA', { CH1: aCh1, CH3: aCh3, CH5: aCh5 }, 99, 469, {
  titles: titles[0], showY: true, showLegend: true,
  circle: { e: 0.1138, n: 3.55e5, r: 0.0925 }
});
makePanel('panelB', { CH1: bCh1, CH3: bCh3, CH5: bCh5 }, 521, 892, {
  titles: titles[1], showY: false, showLegend: false
});
makePanel('panelC', { CH1: cCh1, CH3: cCh3, CH5: cCh5 }, 945, 1316, {
  titles: titles[2], showY: false, showLegend: false
});
</script>
</body>
</html>
